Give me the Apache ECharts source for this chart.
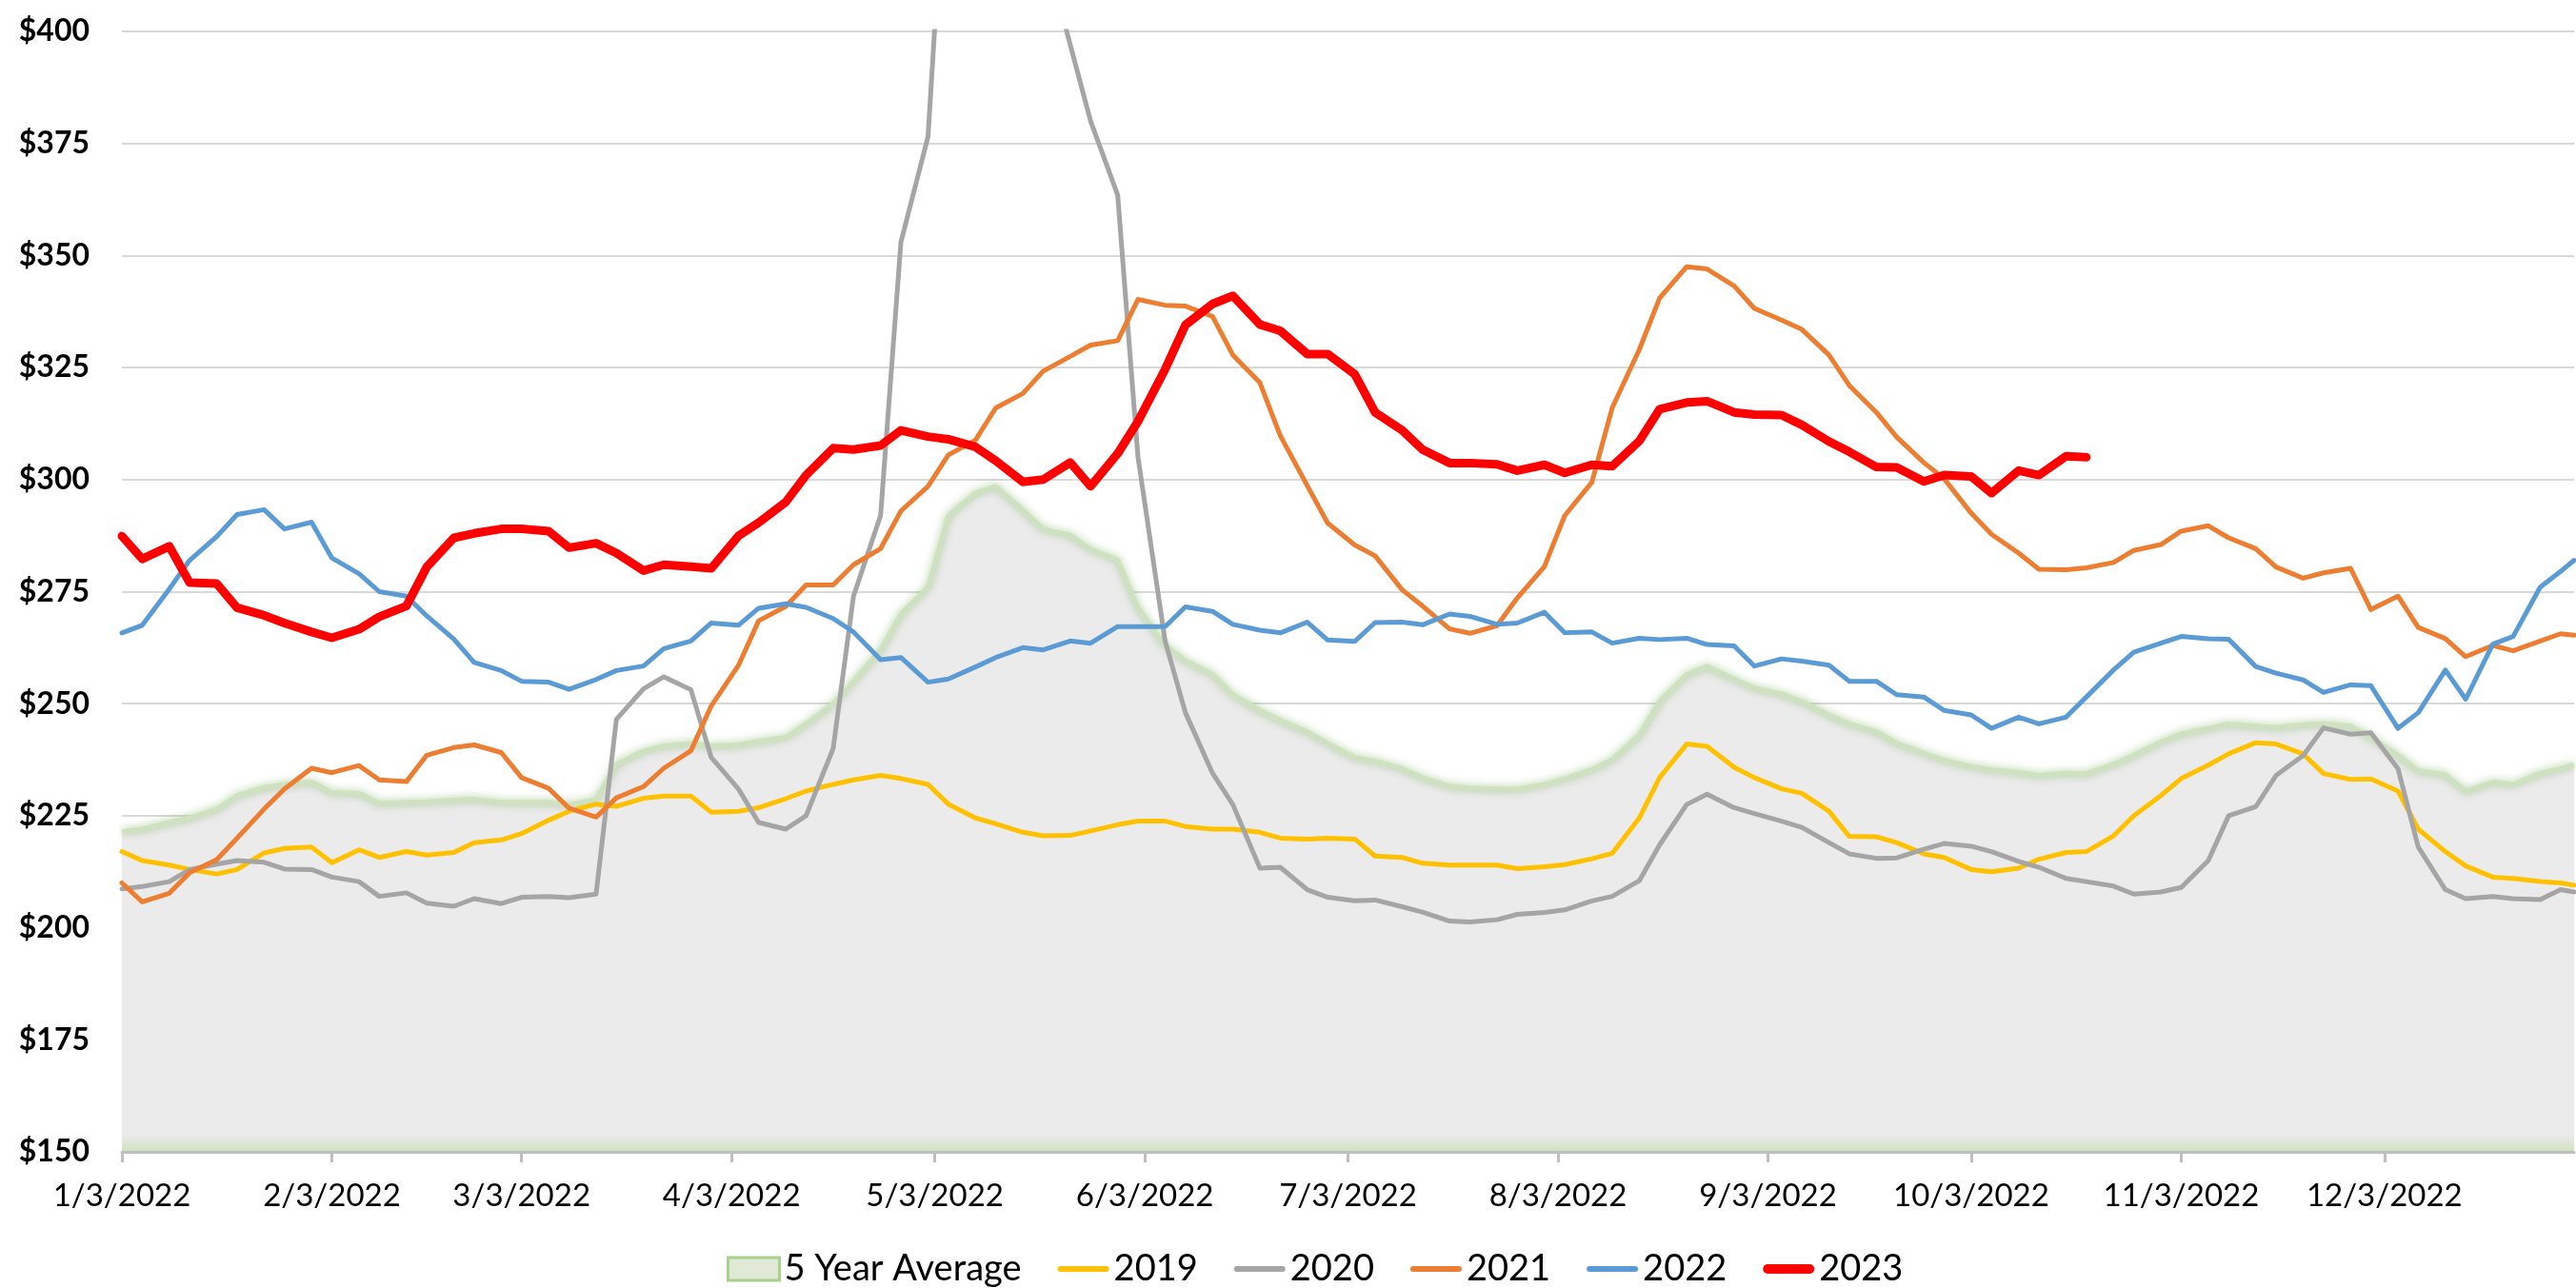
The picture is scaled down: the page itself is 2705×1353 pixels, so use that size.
<!DOCTYPE html>
<html>
<head>
<meta charset="UTF-8">
<title>Price trend 2019-2023</title>
<script src="https://cdn.jsdelivr.net/npm/echarts@6/dist/echarts.min.js"></script>
<style>
  html, body { margin: 0; padding: 0; background: #fff; }
  #chart { width: 2705px; height: 1353px; }
</style>
</head>
<body>
<div id="chart"></div>
<script>
// sample dates (Mon / Thu of 2022), MM-DD
var dates = [
  '01-03','01-06','01-10','01-13','01-17','01-20','01-24','01-27','01-31',
  '02-03','02-07','02-10','02-14','02-17','02-21','02-24','02-28',
  '03-03','03-07','03-10','03-14','03-17','03-21','03-24','03-28','03-31',
  '04-04','04-07','04-11','04-14','04-18','04-21','04-25','04-28',
  '05-02','05-05','05-09','05-12','05-16','05-19','05-23','05-26','05-30',
  '06-02','06-06','06-09','06-13','06-16','06-20','06-23','06-27','06-30',
  '07-04','07-07','07-11','07-14','07-18','07-21','07-25','07-28',
  '08-01','08-04','08-08','08-11','08-15','08-18','08-22','08-25','08-29',
  '09-01','09-05','09-08','09-12','09-15','09-19','09-22','09-26','09-29',
  '10-03','10-06','10-10','10-13','10-17','10-20','10-24','10-27','10-31',
  '11-03','11-07','11-10','11-14','11-17','11-21','11-24','11-28',
  '12-01','12-05','12-08','12-12','12-15','12-19','12-22','12-26','12-29','12-31'
];

var avg5 = [
  221.5, 222, 223.5, 224.5, 226.5, 229.5, 231.3, 232, 232.5,
  230.2, 230, 227.8, 228, 228.1, 228.5, 228.7, 228,
  228, 228, 227.5, 228.6, 236.5, 239.4, 240.6, 241.1, 240.6,
  240.8, 241.6, 242.5, 245.5, 250, 255, 262, 270,
  276, 292, 297, 298.5, 293.2, 289, 287.6, 284.5, 282.1,
  271.5, 263, 259.6, 256.6, 252, 248.5, 246.3, 243.7, 241.2,
  238, 237.2, 235.5, 233.5, 231.6, 231.2, 231, 231,
  232, 233.3, 235.3, 237.5, 243, 250.5, 256.5, 258.3, 255.5,
  253.5, 252.2, 250.5, 247.5, 245.5, 243.8, 241.2, 239, 237.4,
  236, 235.3, 234.7, 234, 234.5, 234.4, 236.5, 238.5, 241.5,
  243.3, 244.5, 245.5, 245, 244.7, 245.3, 245.6, 245,
  242.5, 238.5, 235, 234.2, 230.5, 232.5, 232, 234.5, 235.5, 236.4
];

var y2019 = [
  217, 215, 214, 213, 212, 213, 216.7, 217.7, 218,
  214.5, 217.4, 215.7, 217, 216.2, 216.8, 219, 219.6,
  221, 224, 226, 227.6, 227.1, 228.9, 229.4, 229.4, 225.8,
  226, 226.8, 228.8, 230.5, 232, 233, 234, 233.3,
  232, 227.6, 224.5, 223.2, 221.3, 220.5, 220.6, 221.6, 223,
  223.8, 223.8, 222.6, 222, 222, 221.3, 220, 219.8, 220,
  219.8, 216, 215.7, 214.4, 214, 214, 214, 213.2,
  213.6, 214.1, 215.4, 216.6, 224.5, 233.5, 241, 240.5, 235.8,
  233.5, 231, 230, 226, 220.4, 220.3, 219, 216.5, 215.7,
  213, 212.5, 213.3, 215.3, 216.8, 217, 220.5, 225, 229.5,
  233.3, 236.3, 238.8, 241.3, 241, 238.8, 234.4, 233.1,
  233.2, 230.5, 222, 217, 213.8, 211.3, 211, 210.3, 210, 209.5
];

var y2020 = [
  208.7, 209.2, 210.3, 213, 214.2, 215, 214.6, 213.1, 213,
  211.3, 210.3, 207, 207.8, 205.5, 204.8, 206.5, 205.4,
  206.8, 207, 206.7, 207.5, 246.5, 253.3, 256, 253.1, 238,
  231, 223.5, 222, 225, 240, 274, 292, 353,
  376.5, 450, 470, 470, 460, 420, 397, 380, 363.5,
  305, 264, 248, 234.5, 227.5, 213.3, 213.5, 208.5, 206.8,
  206, 206.2, 204.7, 203.5, 201.5, 201.3, 201.8, 203,
  203.4, 204, 206, 207, 210.5, 218.5, 227.5, 229.8, 226.8,
  225.5, 223.8, 222.4, 219, 216.5, 215.5, 215.6, 217.5, 218.8,
  218.2, 217, 214.8, 213.5, 211, 210.3, 209.3, 207.5, 208,
  209, 215, 225, 227, 234, 238.4, 244.6, 243.2,
  243.5, 235.5, 218, 208.5, 206.5, 207, 206.5, 206.3, 208.5, 208
];

var y2021 = [
  210, 205.8, 207.7, 212.3, 215.2, 220, 226.5, 231, 235.6,
  234.6, 236.2, 233, 232.6, 238.5, 240.2, 240.8, 239.1,
  233.5, 231.1, 226.7, 224.7, 229, 231.5, 235.6, 239.5, 249.5,
  258.5, 268.5, 271.7, 276.5, 276.5, 281, 284.6, 293,
  298.5, 305.5, 308.8, 316, 319.2, 324.2, 327.5, 330, 331,
  340.2, 338.9, 338.7, 336.4, 327.8, 321.6, 309.8, 298.6, 290.3,
  285.4, 283, 275.4, 271.8, 266.7, 265.7, 267.4, 273.6,
  280.6, 292, 299.4, 316, 329, 340.5, 347.5, 347, 343.2,
  338.2, 335.6, 333.5, 327.8, 321, 315, 309.5, 303.8, 300.2,
  292.5, 287.8, 283.6, 280, 279.9, 280.3, 281.5, 284.2, 285.5,
  288.5, 289.7, 287, 284.6, 280.5, 278, 279.2, 280.2,
  271, 274, 267, 264.5, 260.5, 263, 261.8, 264, 265.6, 265.3
];

var y2022 = [
  265.8, 267.5, 275.6, 282, 287.3, 292.2, 293.3, 289, 290.5,
  282.5, 279, 275, 274, 269.6, 264.4, 259.2, 257.4,
  255, 254.8, 253.2, 255.4, 257.4, 258.4, 262.3, 264, 268,
  267.5, 271.3, 272.3, 271.5, 269, 266, 259.8, 260.3,
  254.8, 255.5, 258.2, 260.3, 262.5, 262, 264, 263.5, 267.2,
  267.2, 267.2, 271.6, 270.6, 267.7, 266.4, 265.8, 268.2, 264.2,
  263.9, 268.1, 268.2, 267.6, 270, 269.5, 267.7, 268,
  270.4, 265.8, 266, 263.5, 264.6, 264.3, 264.6, 263.2, 262.9,
  258.4, 260, 259.5, 258.6, 255, 255, 252, 251.5, 248.5,
  247.5, 244.5, 247, 245.5, 247, 251.5, 257.5, 261.5, 263.5,
  265, 264.5, 264.4, 258.3, 256.8, 255.3, 252.5, 254.2,
  254, 244.5, 248, 257.5, 251, 263.3, 265, 276, 279.5, 282
];

var y2023 = [
  287.4, 282.3, 285.1, 277, 276.8, 271.4, 269.7, 268, 266,
  264.7, 266.6, 269.4, 271.8, 280.5, 287, 288, 289,
  289, 288.5, 284.8, 285.8, 283.6, 279.7, 281, 280.6, 280.2,
  287.4, 290.4, 295, 301, 307, 306.7, 307.6, 311,
  309.6, 309, 307.3, 304.2, 299.5, 300, 303.8, 298.5, 305.8,
  313, 324.6, 334.5, 339.2, 341, 334.6, 333.2, 328, 328,
  323.5, 315, 311, 306.7, 303.7, 303.7, 303.4, 302,
  303.3, 301.5, 303.3, 303, 308.6, 315.7, 317.2, 317.5, 315,
  314.5, 314.4, 312.2, 308.5, 306.2, 302.8, 302.7, 299.6, 301,
  300.7, 297, 302, 301, 305.2, 305, null, null, null,
  null, null, null, null, null, null, null, null,
  null, null, null, null, null, null, null, null, null, null
];

// x axis labels sit on the 3rd of each month
var tickDays = ['01-03','02-03','03-03','04-03','05-03','06-03',
                '07-03','08-03','09-03','10-03','11-03','12-03'];

function toTime(md) {
  var p = md.split('-');
  return new Date(2022, +p[0] - 1, +p[1]).getTime();
}
function pairs(vals) {
  return dates.map(function (d, i) { return [toTime(d), vals[i]]; });
}

var tickValues = tickDays.map(toTime);
var thinIcon = 'path://M3,0 H51 A3,3 0 0 1 51,6 H3 A3,3 0 0 1 3,0 Z';
var thickIcon = 'path://M5,0 H49 A5,5 0 0 1 49,10 H5 A5,5 0 0 1 5,0 Z';

var chart = echarts.init(document.getElementById('chart'));

function lineSeries(name, vals, color, width) {
  return {
    name: name,
    type: 'line',
    data: pairs(vals),
    color: color,
    showSymbol: false,
    connectNulls: false,
    lineStyle: { color: color, width: width, cap: 'round', join: 'round' }
  };
}

chart.setOption({
  animation: false,
  backgroundColor: '#ffffff',
  grid: { left: 128, right: 2, top: 33, bottom: 143 },
  legend: {
    left: 758,
    top: 1309,
    itemWidth: 54,
    itemHeight: 24,
    itemGap: 38,
    selectedMode: false,
    textStyle: { fontFamily: 'Lato', fontSize: 38, color: '#000' },
    data: [
      { name: '5 Year Average', icon: 'rect',
        itemStyle: { color: '#dfe9d5', borderColor: '#a9d18e', borderWidth: 3 } },
      { name: '2019', icon: thinIcon },
      { name: '2020', icon: thinIcon },
      { name: '2021', icon: thinIcon },
      { name: '2022', icon: thinIcon },
      { name: '2023', icon: thickIcon }
    ]
  },
  xAxis: {
    type: 'value',
    min: toTime('01-03'),
    max: toTime('12-31'),
    z: 10,
    axisLine: { show: true, lineStyle: { color: '#bfbfbf', width: 3 } },
    axisTick: { show: true, customValues: tickValues, length: 11,
                lineStyle: { color: '#bfbfbf', width: 3 } },
    axisLabel: {
      customValues: tickValues,
      margin: 30,
      fontFamily: 'Lato',
      fontSize: 33,
      color: '#000',
      formatter: function (v) {
        var d = new Date(v);
        return (d.getMonth() + 1) + '/' + d.getDate() + '/' + d.getFullYear();
      }
    },
    splitLine: { show: false }
  },
  yAxis: {
    type: 'value',
    min: 150,
    max: 400,
    interval: 25,
    axisLine: { show: false },
    axisTick: { show: false },
    axisLabel: {
      margin: 34,
      fontFamily: 'Lato',
      fontWeight: 'bold',
      fontSize: 32,
      color: '#000',
      formatter: function (v) { return '$' + v; }
    },
    splitLine: { lineStyle: { color: '#d9d9d9', width: 2 } }
  },
  series: [
    {
      name: '5 Year Average',
      type: 'line',
      data: pairs(avg5),
      color: '#a9d18e',
      showSymbol: false,
      lineStyle: { color: '#cfe2bf', width: 5, shadowBlur: 8,
                   shadowColor: 'rgba(120,170,90,0.6)' },
      areaStyle: {
        opacity: 1,
        origin: 'start',
        color: {
          type: 'linear', x: 0, y: 0, x2: 0, y2: 1,
          colorStops: [
            { offset: 0, color: '#ebebeb' },
            { offset: 0.975, color: '#ebebeb' },
            { offset: 1, color: '#cfe0bf' }
          ]
        }
      }
    },
    lineSeries('2019', y2019, '#ffc000', 5),
    lineSeries('2020', y2020, '#a5a5a5', 5),
    lineSeries('2021', y2021, '#ed7d31', 5),
    lineSeries('2022', y2022, '#5b9bd5', 5),
    lineSeries('2023', y2023, '#ff0000', 9)
  ]
});
</script>
</body>
</html>
